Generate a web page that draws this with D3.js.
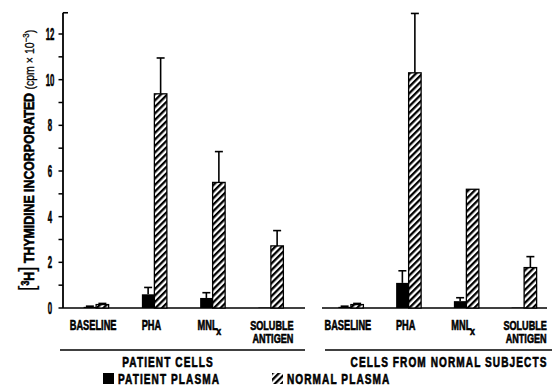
<!DOCTYPE html>
<html>
<head>
<meta charset="UTF-8">
<script src="https://cdnjs.cloudflare.com/ajax/libs/d3/7.8.5/d3.min.js"></script>
<style>
  body { margin: 0; background: #fff; }
  svg { font-family: "Liberation Sans", Arial, sans-serif; font-weight: bold; }
  svg text { stroke: #000; stroke-width: 0.6px; }
</style>
</head>
<body>
<svg></svg>
<script>
    let width = 552, height = 389;

    // data (cpm x 10^-3)
    let categories = ["BASELINE", "PHA", "MNLx", "SOLUBLE ANTIGEN"];
    let panels = ["PATIENT CELLS", "CELLS FROM NORMAL SUBJECTS"];
    let patientPlasma = [[0.05, 0.6, 0.44, 0.02], [0.05, 1.1, 0.3, 0.02]];
    let patientPlasmaErr = [[0.08, 0.9, 0.67, null], [0.08, 1.63, 0.45, null]];
    let normalPlasma = [[0.15, 9.38, 5.5, 2.72], [0.15, 10.3, 5.2, 1.77]];
    let normalPlasmaErr = [[0.2, 10.95, 6.85, 3.39], [0.2, 12.9, null, 2.25]];
    let yTicks = [0, 2, 4, 6, 8, 10, 12];
    let yMinor = [1, 3, 5, 7, 9, 11];

    let svg = d3.select("svg")
        .attr("width", width)
        .attr("height", height);

    let defs = svg.append("defs");
    let pat = defs.append("pattern")
        .attr("id", "hatch")
        .attr("patternUnits", "userSpaceOnUse")
        .attr("width", 4.6)
        .attr("height", 4.6)
        .attr("patternTransform", "rotate(45)");
    pat.append("rect").attr("width", 4.6).attr("height", 4.6).attr("fill", "#fff");
    pat.append("rect").attr("x", 0).attr("width", 2.3).attr("height", 4.6).attr("fill", "#000");

    let y = d3.scaleLinear().domain([0, 12]).range([308, 34]);
    let xRanges = [[67, 300], [322, 553]];
    let barW = 12.5;

    // condensed text helper
    function ctext(g, x, yy, str, size, sx, anchor) {
        return g.append("text")
            .attr("transform", "translate(" + x + "," + yy + ") scale(" + sx + ",1)")
            .attr("text-anchor", anchor || "middle")
            .style("font-size", size + "px")
            .text(str);
    }

    // y axis
    let axisX = 63;
    svg.append("line")
        .attr("x1", axisX).attr("x2", axisX)
        .attr("y1", y(0)).attr("y2", y(12.93))
        .attr("stroke", "#000").attr("stroke-width", 1.8);
    svg.append("line")
        .attr("x1", axisX).attr("x2", axisX + 5)
        .attr("y1", y(12.93)).attr("y2", y(12.93))
        .attr("stroke", "#000").attr("stroke-width", 1.6);
    svg.selectAll(".tick").data(yTicks.concat(yMinor)).enter()
        .append("line")
        .attr("x1", axisX - 4.5).attr("x2", axisX)
        .attr("y1", d => y(d)).attr("y2", d => y(d))
        .attr("stroke", "#000").attr("stroke-width", 1.5);
    yTicks.forEach(t => {
        ctext(svg, 50, y(t) + 6, t, 17, 0.46, "middle");
    });

    // y label
    let yl = svg.append("text")
        .attr("transform", "translate(34,291) rotate(-90) scale(0.88,1)")
        .attr("text-anchor", "start");
    yl.append("tspan").style("font-size", "22px").style("font-weight", "normal").style("stroke-width", "0.2px").text("[");
    yl.append("tspan").style("font-size", "10px").attr("dy", -5).text("3");
    yl.append("tspan").style("font-size", "14px").attr("dy", 5).text("H");
    yl.append("tspan").style("font-size", "22px").style("font-weight", "normal").style("stroke-width", "0.2px").text("]");
    yl.append("tspan").style("font-size", "14px").text(" THYMIDINE INCORPORATED ");
    yl.append("tspan").style("font-size", "12px").style("font-weight", "normal").style("stroke-width", "0.3px").text(" (cpm \u00d7 10");
    yl.append("tspan").style("font-size", "9px").style("font-weight", "normal").style("stroke-width", "0.3px").attr("dy", -5).text("\u22123");
    yl.append("tspan").style("font-size", "12px").style("font-weight", "normal").style("stroke-width", "0.3px").attr("dy", 5).text(")");

    panels.forEach((p, pi) => {
        let x = d3.scaleBand().domain(categories).range(xRanges[pi]);
        let g = svg.append("g");

        // baseline
        g.append("line")
            .attr("x1", pi == 0 ? axisX : xRanges[pi][0]).attr("x2", pi == 0 ? 305 : 547)
            .attr("y1", y(0)).attr("y2", y(0))
            .attr("stroke", "#000").attr("stroke-width", 1.6);

        // error bars
        function errBar(cx, v, e) {
            if (e == null) return;
            g.append("line").attr("x1", cx).attr("x2", cx).attr("y1", y(v)).attr("y2", y(e))
                .attr("stroke", "#000").attr("stroke-width", 1.6);
            g.append("line").attr("x1", cx - 4).attr("x2", cx + 4).attr("y1", y(e)).attr("y2", y(e))
                .attr("stroke", "#000").attr("stroke-width", 1.6);
        }
        categories.forEach((c, i) => {
            let cx = x(c) + x.bandwidth() / 2;
            errBar(cx - barW / 2, patientPlasma[pi][i], patientPlasmaErr[pi][i]);
            errBar(cx + barW / 2, normalPlasma[pi][i], normalPlasmaErr[pi][i]);
        });

        g.selectAll(".pp").data(patientPlasma[pi]).enter()
            .append("rect")
            .attr("x", (d, i) => x(categories[i]) + x.bandwidth() / 2 - barW)
            .attr("y", d => y(d))
            .attr("width", barW)
            .attr("height", d => y(0) - y(d))
            .attr("fill", "#000");
        g.selectAll(".np").data(normalPlasma[pi]).enter()
            .append("rect")
            .attr("x", (d, i) => x(categories[i]) + x.bandwidth() / 2)
            .attr("y", d => y(d))
            .attr("width", barW)
            .attr("height", d => y(0) - y(d))
            .attr("fill", "url(#hatch)")
            .attr("stroke", "#000")
            .attr("stroke-width", 1.3);

        // category labels
        categories.forEach((c, i) => {
            let cx = x(c) + x.bandwidth() / 2 - 3;
            if (c == "SOLUBLE ANTIGEN") {
                ctext(g, cx + 4, 330, "SOLUBLE", 13, 0.7);
                ctext(g, cx + 5, 343, "ANTIGEN", 13, 0.7);
            } else if (c == "MNLx") {
                ctext(g, cx - 2, 330, "MNL", 14, 0.66);
                ctext(g, cx + 9, 335, "x", 11, 0.8);
            } else {
                ctext(g, cx, 330, c, 14, 0.66);
            }
        });

        // panel underline & title
        g.append("line")
            .attr("x1", pi == 0 ? 60 : 325).attr("x2", pi == 0 ? 305 : 552)
            .attr("y1", 350).attr("y2", 350)
            .attr("stroke", "#000").attr("stroke-width", 1.5);
        ctext(g, pi == 0 ? 168 : 449, 367, p, 14, 0.72).style("letter-spacing", "1.5px");
    });

    // legend
    let lg = svg.append("g");
    lg.append("rect").attr("x", 103).attr("y", 373).attr("width", 11).attr("height", 11).attr("fill", "#000");
    ctext(lg, 118, 384, "PATIENT PLASMA", 14, 0.72, "start").style("letter-spacing", "1.5px");
    lg.append("rect").attr("x", 272).attr("y", 373).attr("width", 11).attr("height", 11).attr("fill", "url(#hatch)");
    ctext(lg, 287, 384, "NORMAL PLASMA", 14, 0.72, "start").style("letter-spacing", "1.5px");
</script>
</body>
</html>
